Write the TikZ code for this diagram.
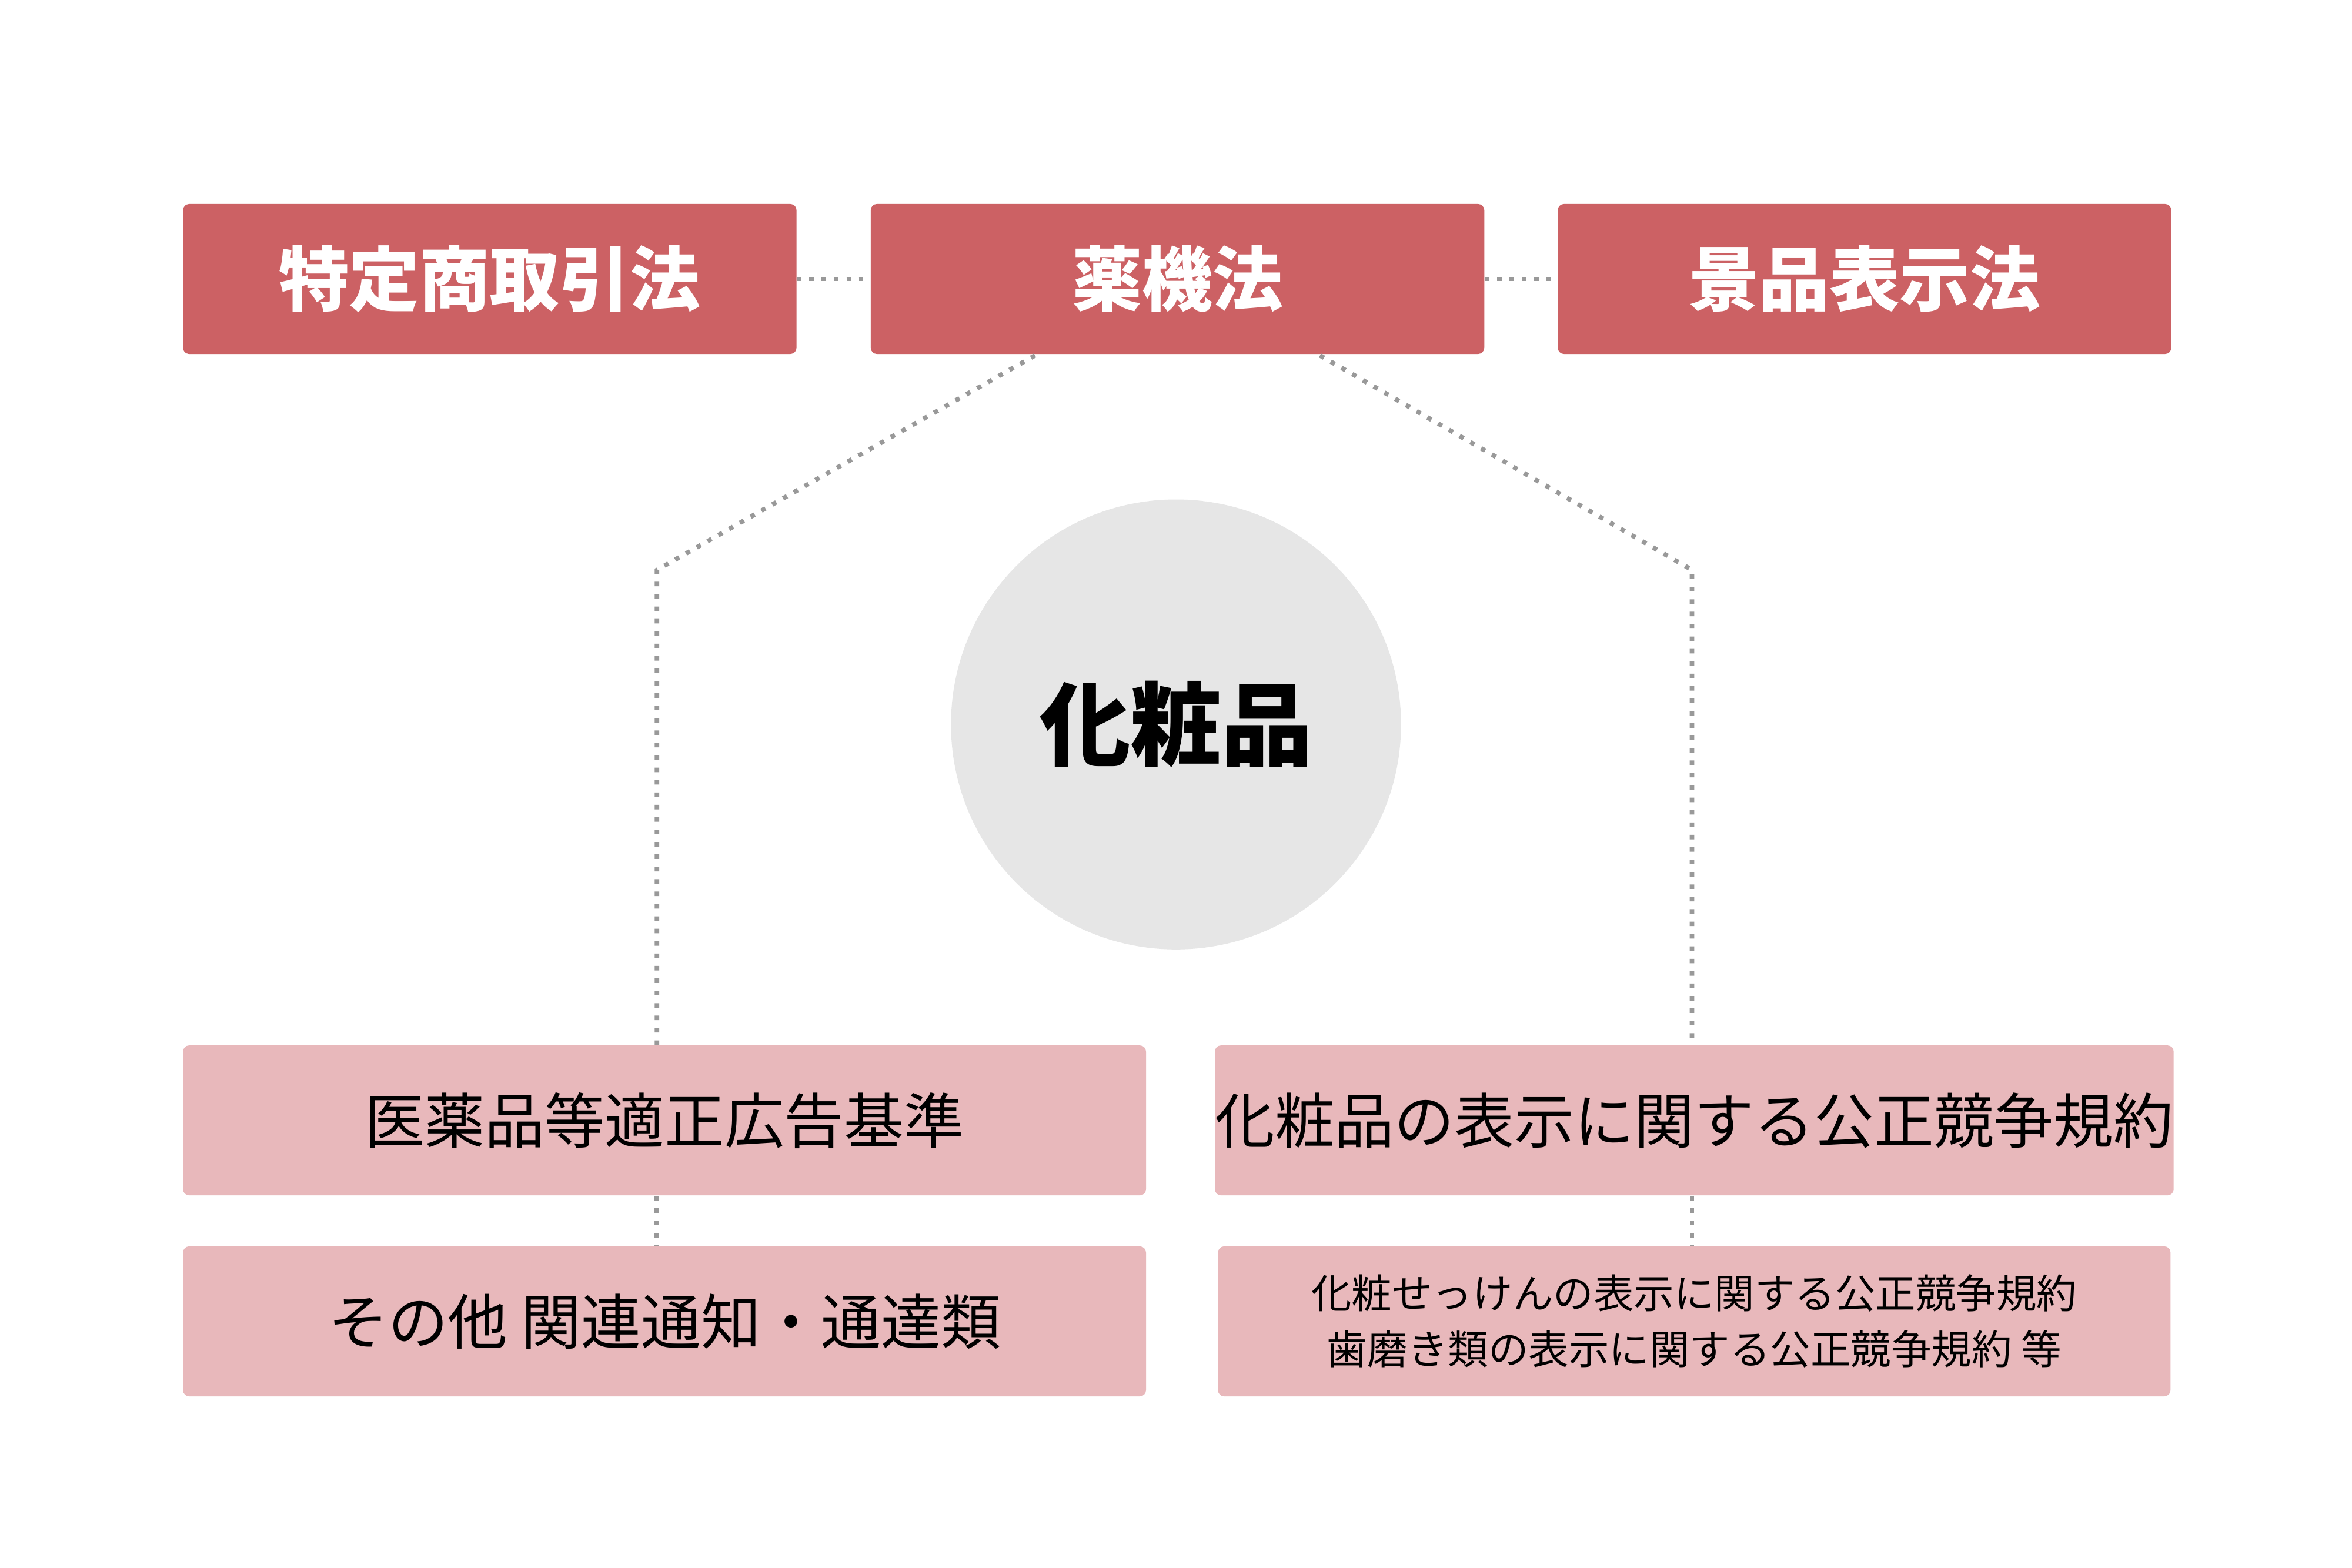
\documentclass[tikz,border=0pt]{standalone}
\usepackage{fontspec}
\setmainfont{Noto Sans CJK JP}
\newfontfamily\jpb{Noto Sans CJK JP Bold}
\definecolor{topc}{HTML}{CC6164}
\definecolor{botc}{HTML}{E8B8BB}
\definecolor{circc}{HTML}{E6E6E6}
\definecolor{dotc}{HTML}{999999}
\begin{document}
\begin{tikzpicture}[x=0.02551cm,y=-0.02551cm,
 topbox/.style={fill=topc,rounded corners=3pt,minimum width=409*0.02551cm,minimum height=100*0.02551cm,text=white,font=\fontsize{34}{40}\selectfont\bfseries,inner sep=0},
 botbox/.style={fill=botc,rounded corners=3pt,minimum height=100*0.02551cm,text=black,inner sep=0},
 dots/.style={dotc,line width=2.2pt,dash pattern=on 2.2pt off 3.8pt}]
\useasboundingbox[fill=white] (0,0) rectangle (1568,1045.4);
\node[topbox] (a) at (326.5,186) {特定商取引法};
\node[topbox] (b) at (785,186) {薬機法};
\node[topbox] (c) at (1243,186) {景品表示法};
\node[circle,fill=circc,minimum size=300*0.02551cm,inner sep=0,font=\fontsize{44}{50}\selectfont\bfseries] (k) at (784,483) {化粧品};
\node[botbox,minimum width=642*0.02551cm,font=\fontsize{29}{34}\selectfont] (d) at (443,747) {医薬品等適正広告基準};
\node[botbox,minimum width=642*0.02551cm,font=\fontsize{29}{34}\selectfont] (e) at (443,881) {その他 関連通知・通達類};
\node[botbox,minimum width=635*0.02551cm,font=\fontsize{29}{34}\selectfont] (f) at (1129.5,747) {化粧品の表示に関する公正競争規約};
\node[botbox,minimum width=635*0.02551cm,font=\fontsize{19.5}{27}\selectfont,align=center] (g) at (1129.5,881) {化粧せっけんの表示に関する公正競争規約\\歯磨き類の表示に関する公正競争規約 等};
\draw[dots] (a.east) -- (b.west);
\draw[dots] (b.east) -- (c.west);
\coordinate (l1) at (690,237); \coordinate (l2) at (438,380);
\coordinate (r1) at (880,237); \coordinate (r2) at (1128,380);
\draw[dots] (l1) -- (l2) -- (l2 |- d.north);
\draw[dots] (r1) -- (r2) -- (r2 |- f.north);
\draw[dots] (l2 |- d.south) -- (l2 |- e.north);
\draw[dots] (r2 |- f.south) -- (r2 |- g.north);
\end{tikzpicture}
\end{document}
